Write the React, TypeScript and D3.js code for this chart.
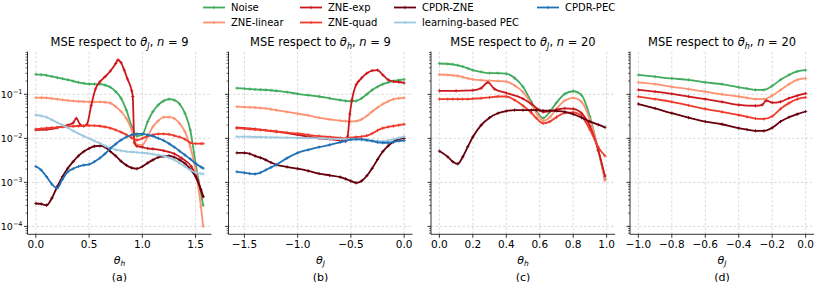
import React from "react";
import * as d3 from "d3";

// ---------- series meta ----------
const seriesNames = ["Noise", "ZNE-linear", "ZNE-exp", "ZNE-quad", "CPDR-ZNE", "learning-based PEC", "CPDR-PEC"];
const seriesColors = ["#41ab5d", "#fc9272", "#cb181d", "#ef3b2c", "#67000d", "#9ecae1", "#2171b5"];

// ---------- panel (a): MSE vs theta_h, n = 9 (values are log10 MSE) ----------
const thetaA = [0, 0.05, 0.1, 0.15, 0.2, 0.25, 0.3, 0.35, 0.4, 0.45, 0.5, 0.55, 0.6, 0.65, 0.7, 0.75, 0.8, 0.85, 0.9, 0.95, 1.0, 1.05, 1.1, 1.15, 1.2, 1.25, 1.3, 1.35, 1.4, 1.45, 1.5, 1.55, 1.571];
const noiseA = [-0.545, -0.555, -0.57, -0.595, -0.62, -0.645, -0.67, -0.7, -0.73, -0.75, -0.765, -0.77, -0.77, -0.79, -0.84, -0.94, -1.09, -1.36, -1.73, -1.95, -1.92, -1.62, -1.39, -1.24, -1.15, -1.11, -1.13, -1.22, -1.43, -1.81, -2.57, -3.25, -3.52];
const zneLinA = [-1.076, -1.078, -1.08, -1.095, -1.11, -1.125, -1.14, -1.15, -1.16, -1.165, -1.17, -1.17, -1.17, -1.18, -1.2, -1.28, -1.39, -1.55, -1.81, -2.15, -2.15, -1.96, -1.73, -1.6, -1.52, -1.52, -1.55, -1.66, -1.85, -2.19, -2.72, -3.55, -4.0];
const thetaAExp = [0, 0.1, 0.2, 0.3, 0.35, 0.38, 0.42, 0.45, 0.48, 0.52, 0.56, 0.6, 0.65, 0.7, 0.75, 0.77, 0.8, 0.83, 0.86, 0.9, 0.91, 0.925, 0.95, 1.0, 1.05, 1.1, 1.2, 1.3, 1.37, 1.46, 1.52, 1.571];
const zneExpA = [-1.81, -1.8, -1.76, -1.7, -1.65, -1.545, -1.7, -1.72, -1.68, -1.25, -0.88, -0.72, -0.6, -0.47, -0.3, -0.22, -0.28, -0.45, -0.65, -0.92, -1.05, -2.1, -2.18, -2.2, -2.23, -2.24, -2.28, -2.35, -2.45, -2.64, -2.95, -3.33];
const zneQuadA = [-1.79, -1.78, -1.77, -1.76, -1.75, -1.74, -1.73, -1.725, -1.72, -1.715, -1.71, -1.71, -1.72, -1.74, -1.77, -1.81, -1.86, -1.92, -1.99, -2.04, -2.0, -1.95, -1.92, -1.9, -1.9, -1.91, -1.94, -1.97, -2.02, -2.1, -2.12, -2.12, -2.12];
const cpdrZneA = [-3.48, -3.49, -3.52, -3.36, -3.1, -2.87, -2.68, -2.53, -2.4, -2.3, -2.23, -2.18, -2.17, -2.2, -2.3, -2.4, -2.52, -2.61, -2.67, -2.69, -2.64, -2.56, -2.49, -2.43, -2.41, -2.4, -2.43, -2.49, -2.57, -2.7, -2.87, -3.17, -3.32];
const lbPecA = [-1.47, -1.49, -1.52, -1.58, -1.64, -1.7, -1.76, -1.83, -1.89, -1.95, -2.0, -2.06, -2.11, -2.17, -2.22, -2.26, -2.28, -2.3, -2.31, -2.32, -2.33, -2.34, -2.36, -2.38, -2.4, -2.44, -2.49, -2.56, -2.64, -2.72, -2.78, -2.8, -2.81];
const cpdrPecA = [-2.64, -2.72, -2.87, -3.04, -3.13, -2.93, -2.76, -2.69, -2.64, -2.61, -2.59, -2.53, -2.45, -2.35, -2.23, -2.13, -2.04, -1.97, -1.92, -1.9, -1.9, -1.92, -1.95, -2.0, -2.05, -2.12, -2.2, -2.29, -2.38, -2.47, -2.57, -2.65, -2.68];

// ---------- panel (b): MSE vs theta_J, n = 9 ----------
const thetaB = [-1.571, -1.5, -1.45, -1.4, -1.35, -1.3, -1.25, -1.2, -1.1, -1.0, -0.9, -0.8, -0.7, -0.6, -0.55, -0.5, -0.45, -0.4, -0.35, -0.3, -0.25, -0.2, -0.15, -0.1, -0.05, 0];
const noiseB = [-0.86, -0.87, -0.88, -0.89, -0.895, -0.9, -0.91, -0.92, -0.95, -0.99, -1.02, -1.05, -1.09, -1.13, -1.15, -1.16, -1.15, -1.09, -1.0, -0.9, -0.83, -0.77, -0.73, -0.7, -0.68, -0.66];
const zneLinB = [-1.28, -1.29, -1.295, -1.3, -1.31, -1.32, -1.34, -1.36, -1.4, -1.44, -1.48, -1.53, -1.57, -1.6, -1.61, -1.62, -1.61, -1.57, -1.49, -1.39, -1.3, -1.22, -1.16, -1.11, -1.09, -1.08];
const thetaBExp = [-1.571, -1.4, -1.2, -1.0, -0.8, -0.7, -0.6, -0.55, -0.53, -0.51, -0.49, -0.45, -0.43, -0.4, -0.35, -0.3, -0.25, -0.2, -0.15, -0.1, -0.05, 0];
const zneExpB = [-1.76, -1.79, -1.85, -1.92, -2.0, -2.02, -2.05, -2.07, -1.95, -1.45, -1.13, -0.78, -0.71, -0.63, -0.52, -0.46, -0.45, -0.56, -0.67, -0.71, -0.72, -0.74];
const zneQuadB = [-1.77, -1.78, -1.79, -1.8, -1.81, -1.82, -1.83, -1.84, -1.87, -1.89, -1.92, -1.95, -1.97, -1.99, -2.0, -1.99, -1.97, -1.96, -1.94, -1.89, -1.82, -1.77, -1.74, -1.72, -1.7, -1.68];
const cpdrZneB = [-2.33, -2.33, -2.35, -2.4, -2.44, -2.49, -2.55, -2.6, -2.65, -2.69, -2.74, -2.8, -2.84, -2.88, -2.92, -2.97, -3.01, -2.97, -2.85, -2.68, -2.48, -2.3, -2.17, -2.08, -2.02, -2.0];
const lbPecB = [-1.96, -1.96, -1.965, -1.97, -1.97, -1.975, -1.98, -1.98, -1.985, -1.99, -1.995, -2.0, -2.01, -2.02, -2.02, -2.02, -2.03, -2.04, -2.05, -2.06, -2.06, -2.07, -2.05, -2.02, -1.99, -1.96];
const cpdrPecB = [-2.76, -2.78, -2.8, -2.81, -2.78, -2.72, -2.66, -2.6, -2.45, -2.33, -2.26, -2.2, -2.15, -2.09, -2.06, -2.03, -2.02, -2.02, -2.04, -2.06, -2.09, -2.1, -2.1, -2.08, -2.06, -2.05];

// ---------- panel (c): MSE vs theta_h, n = 20 ----------
const thetaC = [0, 0.05, 0.08, 0.11, 0.14, 0.17, 0.2, 0.25, 0.3, 0.35, 0.4, 0.45, 0.5, 0.55, 0.58, 0.62, 0.66, 0.7, 0.75, 0.8, 0.85, 0.9, 0.95, 0.99];
const noiseC = [-0.3, -0.31, -0.32, -0.34, -0.37, -0.41, -0.45, -0.49, -0.52, -0.52, -0.53, -0.63, -0.83, -1.17, -1.37, -1.54, -1.4, -1.19, -0.99, -0.93, -1.02, -1.51, -2.27, -2.93];
const zneLinC = [-0.55, -0.56, -0.57, -0.58, -0.61, -0.64, -0.66, -0.68, -0.69, -0.7, -0.71, -0.8, -0.95, -1.22, -1.42, -1.6, -1.52, -1.33, -1.14, -1.08, -1.17, -1.58, -2.27, -2.96];
const thetaCExp = [0, 0.1, 0.2, 0.25, 0.29, 0.33, 0.4, 0.5, 0.55, 0.6, 0.62, 0.66, 0.7, 0.75, 0.8, 0.85, 0.9, 0.95, 0.99];
const zneExpC = [-0.92, -0.92, -0.91, -0.86, -0.73, -0.88, -0.97, -1.1, -1.22, -1.36, -1.4, -1.38, -1.35, -1.32, -1.33, -1.43, -1.73, -2.27, -2.86];
const zneQuadC = [-1.11, -1.11, -1.11, -1.11, -1.11, -1.11, -1.1, -1.09, -1.07, -1.05, -1.05, -1.13, -1.26, -1.42, -1.54, -1.66, -1.62, -1.52, -1.42, -1.41, -1.5, -1.8, -2.2, -2.4];
const cpdrZneC = [-2.29, -2.42, -2.53, -2.58, -2.42, -2.19, -1.97, -1.7, -1.53, -1.43, -1.38, -1.36, -1.36, -1.36, -1.36, -1.37, -1.37, -1.38, -1.4, -1.45, -1.53, -1.62, -1.69, -1.75];

// ---------- panel (d): MSE vs theta_J, n = 20 ----------
const thetaD = [-1.0, -0.9, -0.8, -0.7, -0.6, -0.5, -0.4, -0.35, -0.3, -0.25, -0.2, -0.15, -0.1, -0.05, 0];
const noiseD = [-0.56, -0.6, -0.64, -0.67, -0.73, -0.77, -0.84, -0.87, -0.9, -0.9, -0.81, -0.67, -0.56, -0.48, -0.45];
const zneLinD = [-0.73, -0.77, -0.83, -0.88, -0.94, -1.0, -1.05, -1.08, -1.11, -1.11, -1.03, -0.9, -0.77, -0.67, -0.64];
const thetaDExp = [-1.0, -0.9, -0.8, -0.7, -0.6, -0.5, -0.4, -0.3, -0.26, -0.235, -0.2, -0.15, -0.1, -0.05, 0];
const zneExpD = [-0.9, -0.94, -0.99, -1.05, -1.11, -1.17, -1.24, -1.26, -1.24, -1.14, -1.19, -1.17, -1.09, -1.03, -0.98];
const zneQuadD = [-1.05, -1.11, -1.17, -1.25, -1.33, -1.4, -1.47, -1.51, -1.55, -1.56, -1.5, -1.33, -1.2, -1.11, -1.07];
const cpdrZneD = [-1.22, -1.32, -1.43, -1.53, -1.62, -1.68, -1.77, -1.8, -1.83, -1.83, -1.76, -1.62, -1.52, -1.45, -1.39];

// ---------- ticks ----------
const ticksA = [0, 0.5, 1.0, 1.5];
const ticksB = [-1.5, -1.0, -0.5, 0.0];
const ticksC = [0, 0.2, 0.4, 0.6, 0.8, 1.0];
const ticksD = [-1.0, -0.8, -0.6, -0.4, -0.2, 0.0];
const yMajorExps = [-4, -3, -2, -1];

type S = { name: string; x: number[]; y: number[] };
type Panel = {
  key: string; titleSub: string; n: string; xsub: string; caption: string;
  domain: [number, number]; ticks: number[]; series: S[];
};

const panels: Panel[] = [
  {
    key: "a", titleSub: "J", n: "9", xsub: "h", caption: "(a)", domain: [-0.0785, 1.6493], ticks: ticksA,
    series: [
      { name: "Noise", x: thetaA, y: noiseA },
      { name: "ZNE-linear", x: thetaA, y: zneLinA },
      { name: "ZNE-exp", x: thetaAExp, y: zneExpA },
      { name: "ZNE-quad", x: thetaA, y: zneQuadA },
      { name: "CPDR-ZNE", x: thetaA, y: cpdrZneA },
      { name: "learning-based PEC", x: thetaA, y: lbPecA },
      { name: "CPDR-PEC", x: thetaA, y: cpdrPecA },
    ],
  },
  {
    key: "b", titleSub: "h", n: "9", xsub: "J", caption: "(b)", domain: [-1.6493, 0.0785], ticks: ticksB,
    series: [
      { name: "Noise", x: thetaB, y: noiseB },
      { name: "ZNE-linear", x: thetaB, y: zneLinB },
      { name: "ZNE-exp", x: thetaBExp, y: zneExpB },
      { name: "ZNE-quad", x: thetaB, y: zneQuadB },
      { name: "CPDR-ZNE", x: thetaB, y: cpdrZneB },
      { name: "learning-based PEC", x: thetaB, y: lbPecB },
      { name: "CPDR-PEC", x: thetaB, y: cpdrPecB },
    ],
  },
  {
    key: "c", titleSub: "J", n: "20", xsub: "h", caption: "(c)", domain: [-0.05, 1.05], ticks: ticksC,
    series: [
      { name: "Noise", x: thetaC, y: noiseC },
      { name: "ZNE-linear", x: thetaC, y: zneLinC },
      { name: "ZNE-exp", x: thetaCExp, y: zneExpC },
      { name: "ZNE-quad", x: thetaC, y: zneQuadC },
      { name: "CPDR-ZNE", x: thetaC, y: cpdrZneC },
    ],
  },
  {
    key: "d", titleSub: "h", n: "20", xsub: "J", caption: "(d)", domain: [-1.05, 0.05], ticks: ticksD,
    series: [
      { name: "Noise", x: thetaD, y: noiseD },
      { name: "ZNE-linear", x: thetaD, y: zneLinD },
      { name: "ZNE-exp", x: thetaDExp, y: zneExpD },
      { name: "ZNE-quad", x: thetaD, y: zneQuadD },
      { name: "CPDR-ZNE", x: thetaD, y: cpdrZneD },
    ],
  },
];

const W = 814, H = 282;
const panelLefts = [27.5, 228.5, 431, 630];
const PW = 184;
const TOP = 51.7, BOTTOM = 234.3;
const FONT = "DejaVu Sans, sans-serif";

const colorOf = (n: string) => seriesColors[seriesNames.indexOf(n)];
const fmt = (v: number) => (v < -1e-9 ? "\u2212" : "") + Math.abs(v).toFixed(1);

export default function App() {
  const y = d3.scaleLog().domain([Math.pow(10, -4.18), Math.pow(10, -0.032)]).range([BOTTOM, TOP]);
  const minor: number[] = [];
  for (let e = -5; e <= 0; e++) for (let m = 2; m <= 9; m++) {
    const v = m * Math.pow(10, e);
    if (y(v) >= TOP - 0.01 && y(v) <= BOTTOM + 0.01) minor.push(v);
  }

  const legendCols = [203, 300, 394, 537];
  const legendRows = [7.5, 22.5];

  return (
    <svg width={W} height={H} style={{ position: "absolute", left: 0, top: 0, fontFamily: FONT }}>
      <rect width={W} height={H} fill="white" />
      {panels.map((p, pi) => {
        const L = panelLefts[pi];
        const x = d3.scaleLinear().domain(p.domain).range([L, L + PW]);
        const line = d3.line<[number, number]>()
          .x((d) => x(d[0]))
          .y((d) => y(Math.pow(10, d[1])))
          .curve(d3.curveMonotoneX);
        return (
          <g key={p.key}>
            {p.ticks.map((t) => (
              <line key={"gx" + t} x1={x(t)} x2={x(t)} y1={TOP} y2={BOTTOM} stroke="#d0d0d0" strokeWidth={0.8} strokeDasharray="2.5,2" />
            ))}
            {yMajorExps.map((e) => (
              <line key={"gy" + e} x1={L} x2={L + PW} y1={y(Math.pow(10, e))} y2={y(Math.pow(10, e))} stroke="#d0d0d0" strokeWidth={0.8} strokeDasharray="2.5,2" />
            ))}
            {p.series.map((s) => {
              const pts: [number, number][] = s.x.map((xx, i) => [xx, s.y[i]]);
              const c = colorOf(s.name);
              return (
                <g key={s.name}>
                  <path d={line(pts) || ""} fill="none" stroke={c} strokeWidth={1.8} strokeLinejoin="round" />
                  {pts.map((d, i) => {
                    const px = x(d[0]), py = y(Math.pow(10, d[1]));
                    return (
                      <path key={i} d={`M${px - 1.6},${py}H${px + 1.6}M${px},${py - 1.6}V${py + 1.6}`} stroke={c} strokeWidth={0.9} />
                    );
                  })}
                </g>
              );
            })}
            <line x1={L} x2={L} y1={TOP} y2={BOTTOM} stroke="black" strokeWidth={0.8} />
            <line x1={L} x2={L + PW} y1={BOTTOM} y2={BOTTOM} stroke="black" strokeWidth={0.8} />
            {yMajorExps.map((e) => (
              <line key={"yt" + e} x1={L - 3.5} x2={L} y1={y(Math.pow(10, e))} y2={y(Math.pow(10, e))} stroke="black" strokeWidth={0.8} />
            ))}
            {minor.map((v, i) => (
              <line key={"ym" + i} x1={L - 2} x2={L} y1={y(v)} y2={y(v)} stroke="black" strokeWidth={0.6} />
            ))}
            {pi === 0 && yMajorExps.map((e) => (
              <text key={"yl" + e} x={L - 5} y={y(Math.pow(10, e)) + 3.6} fontSize={9.5} textAnchor="end" fill="black">
                10<tspan dy={-4.2} fontSize={6.5}>{"\u2212" + Math.abs(e)}</tspan>
              </text>
            ))}
            {p.ticks.map((t) => (
              <g key={"xt" + t}>
                <line x1={x(t)} x2={x(t)} y1={BOTTOM} y2={BOTTOM + 3.5} stroke="black" strokeWidth={0.8} />
                <text x={x(t)} y={BOTTOM + 14} fontSize={10.5} textAnchor="middle" fill="black">{fmt(t)}</text>
              </g>
            ))}
            <text x={L + PW / 2} y={263.5} fontSize={11} textAnchor="middle" fill="black">
              <tspan fontStyle="italic">θ</tspan>
              <tspan fontStyle="italic" fontSize={7.5} dy={2.5}>{p.xsub}</tspan>
            </text>
            <text x={L + PW / 2} y={280.5} fontSize={11} textAnchor="middle" fill="black">{p.caption}</text>
            <text x={L + PW / 2} y={46} fontSize={11.5} textAnchor="middle" fill="black">
              MSE respect to <tspan fontStyle="italic">θ</tspan>
              <tspan fontStyle="italic" fontSize={8} dy={2.5}>{p.titleSub}</tspan>
              <tspan dy={-2.5}>, </tspan>
              <tspan fontStyle="italic">n</tspan>
              <tspan> = {p.n}</tspan>
            </text>
          </g>
        );
      })}
      {seriesNames.map((n, i) => {
        const col = Math.floor(i / 2), row = i % 2;
        const lx = legendCols[col], ly = legendRows[row];
        const c = seriesColors[i];
        return (
          <g key={n}>
            <line x1={lx} x2={lx + 22} y1={ly} y2={ly} stroke={c} strokeWidth={1.8} />
            <path d={`M${lx + 9.4},${ly}H${lx + 12.6}M${lx + 11},${ly - 1.6}V${ly + 1.6}`} stroke={c} strokeWidth={0.9} />
            <text x={lx + 28} y={ly + 3.6} fontSize={10} fill="black">{n}</text>
          </g>
        );
      })}
    </svg>
  );
}
